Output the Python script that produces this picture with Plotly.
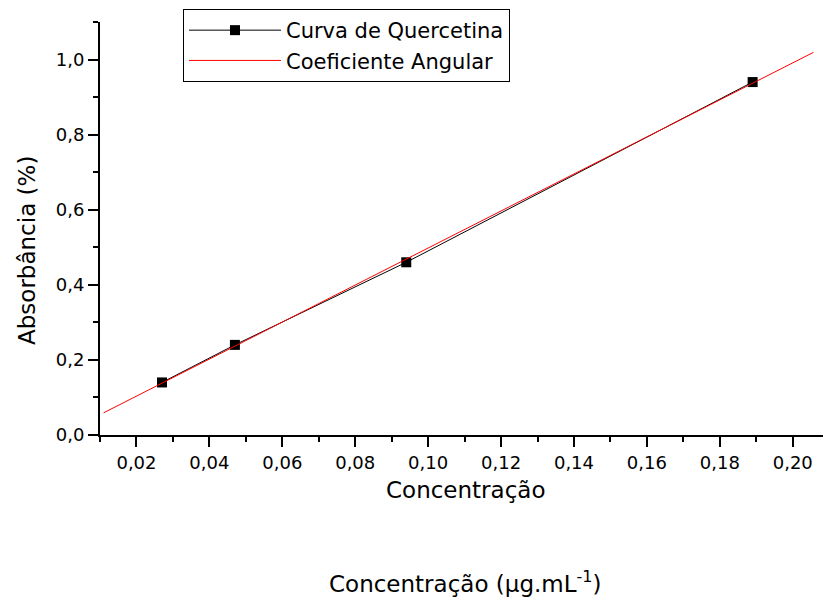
import numpy as np
import plotly.graph_objects as go

# Data
conc = [0.027, 0.047, 0.094, 0.189]          # Concentração (µg.mL-1)
absorb = [0.14, 0.24, 0.46, 0.94]            # Absorbância
fit_x = [0.011, 0.2057]                      # extent of the fitted line
series_names = ["Curva de Quercetina", "Coeficiente Angular"]

slope, intercept = np.polyfit(conc, absorb, 1)
fit_y = [slope * x + intercept for x in fit_x]

FONT = "DejaVu Sans"

fig = go.Figure()
fig.add_trace(go.Scatter(
    x=conc, y=absorb, mode="lines+markers", name=series_names[0],
    line=dict(color="black", width=1),
    marker=dict(symbol="square", size=10, color="black"),
    cliponaxis=False,
))
fig.add_trace(go.Scatter(
    x=fit_x, y=fit_y, mode="lines", name=series_names[1],
    line=dict(color="#ff0000", width=1),
    cliponaxis=False,
))

W, H = 823, 599
L, R, T, B = 100, 0, 22, 164

def px(xp):
    return (xp - L) / (W - L - R)

def py(yp):
    return (H - B - yp) / (H - T - B)

axis_common = dict(
    showgrid=False, zeroline=False, showline=True, linecolor="black", linewidth=2,
    ticks="outside", ticklen=10, tickwidth=2, tickcolor="black",
    tickfont=dict(family=FONT, size=18, color="black"),
    mirror=False,
)

fig.update_layout(
    width=W, height=H,
    margin=dict(l=L, r=R, t=T, b=B, pad=0),
    plot_bgcolor="white", paper_bgcolor="white",
    separators=",.",
    font=dict(family=FONT, color="black"),
    xaxis=dict(range=[0.01, 0.2083], tick0=0, dtick=0.02, tickformat=".2f",
               minor=dict(dtick=0.01, ticklen=5, tickwidth=2, tickcolor="black", ticks="outside"),
               **axis_common),
    yaxis=dict(range=[0, 1.1], tick0=0, dtick=0.2, tickformat=".1f",
               minor=dict(dtick=0.1, ticklen=5, tickwidth=2, tickcolor="black", ticks="outside"),
               **axis_common),
    legend=dict(x=px(183), y=py(9), xanchor="left", yanchor="top",
                bordercolor="black", borderwidth=1, bgcolor="white",
                font=dict(family=FONT, size=21, color="black"),
                tracegroupgap=0, itemwidth=92),
    showlegend=True,
    annotations=[
        dict(text="Concentração", x=px(465), y=py(490), xref="paper", yref="paper",
             showarrow=False, xanchor="center", yanchor="middle",
             font=dict(family=FONT, size=23, color="black")),
        dict(text="Absorbância (%)", x=px(27), y=py(251), xref="paper", yref="paper",
             showarrow=False, xanchor="center", yanchor="middle", textangle=-90,
             font=dict(family=FONT, size=23, color="black")),
        dict(text="Concentração (µg.mL<sup>-1</sup>)", x=px(465), y=py(582),
             xref="paper", yref="paper", showarrow=False, xanchor="center", yanchor="middle",
             font=dict(family=FONT, size=23, color="black")),
    ],
)

fig.write_html("out.html")
